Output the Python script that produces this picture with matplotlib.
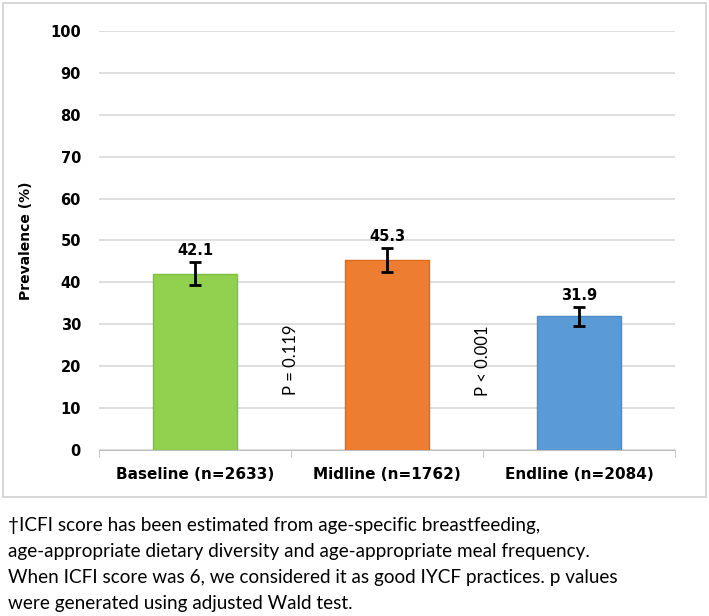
import numpy as np
import matplotlib.pyplot as plt
from matplotlib.patches import Rectangle

# Datos
categorias = ["Baseline (n=2633)", "Midline (n=1762)", "Endline (n=2084)"]
prevalencia = [42.1, 45.3, 31.9]
error = [2.8, 2.9, 2.3]
colores = ["#92D050", "#ED7D31", "#5B9BD5"]
bordes = ["#7DC03A", "#E0691A", "#4A8AC8"]
p_textos = ["P = 0.119", "P < 0.001"]
p_pos_y = [21.5, 21.2]

nota = ["\u2020ICFI score has been estimated from age-specific breastfeeding,",
        "age-appropriate dietary diversity and age-appropriate meal frequency.",
        "When ICFI score was 6, we considered it as good IYCF practices. p values",
        "were generated using adjusted Wald test."]

W, H = 709, 616
fig = plt.figure(figsize=(W / 100, H / 100), dpi=100)

# Marco del gráfico
fig.patches.append(Rectangle((3 / W, 1 - 497 / H), 703 / W, 494 / H,
                             transform=fig.transFigure, fill=False,
                             edgecolor="#CFCFCF", lw=1.2))

ax = fig.add_axes([99 / W, 1 - 450 / H, 576 / W, 419 / H])
x = np.arange(len(categorias))
ax.bar(x, prevalencia, width=0.44, color=colores, edgecolor=bordes, lw=1, zorder=3)
ax.errorbar(x, prevalencia, yerr=error, fmt="none", ecolor="black",
            elinewidth=2, capsize=4, capthick=2, zorder=4)

for xi, v, e in zip(x, prevalencia, error):
    ax.annotate(f"{v}", (xi, v + e), xytext=(0, 3), textcoords="offset points",
                ha="center", va="bottom", fontsize=10.5, fontweight="bold")

for i, (t, yy) in enumerate(zip(p_textos, p_pos_y)):
    ax.text(i + 0.5, yy, t, rotation=90, ha="center", va="center", fontsize=12,
            family=["Lato", "DejaVu Sans"])

ax.set_xlim(-0.5, 2.5)
ax.set_ylim(0, 100)
ax.set_yticks(np.arange(0, 101, 10))
ax.yaxis.grid(True, color="#D9D9D9", lw=1.2, zorder=0)
ax.set_axisbelow(True)
ax.tick_params(axis="y", length=0, pad=13, labelsize=10.5)
for lbl in ax.get_yticklabels():
    lbl.set_fontweight("bold")

ax.set_xticks(x)
ax.set_xticklabels(categorias, fontsize=11, fontweight="bold")
ax.tick_params(axis="x", length=0, pad=12)
ax.set_xticks([-0.5, 0.5, 1.5, 2.5], minor=True)
ax.tick_params(axis="x", which="minor", length=5, color="#BFBFBF", direction="out")

for s in ["top", "right", "left"]:
    ax.spines[s].set_visible(False)
ax.spines["bottom"].set_color("#BFBFBF")

ax.set_ylabel("Prevalence (%)", fontsize=10, fontweight="bold")
ax.yaxis.set_label_coords(-0.115, 0.5)

# Nota al pie, una línea cada 26 px
for k, linea in enumerate(nota):
    fig.text(8 / W, 1 - (525 + 26 * k) / H, linea, ha="left", va="center",
             fontsize=13.6, family=["Lato", "DejaVu Sans"])

fig.savefig("out.png", dpi=100)
